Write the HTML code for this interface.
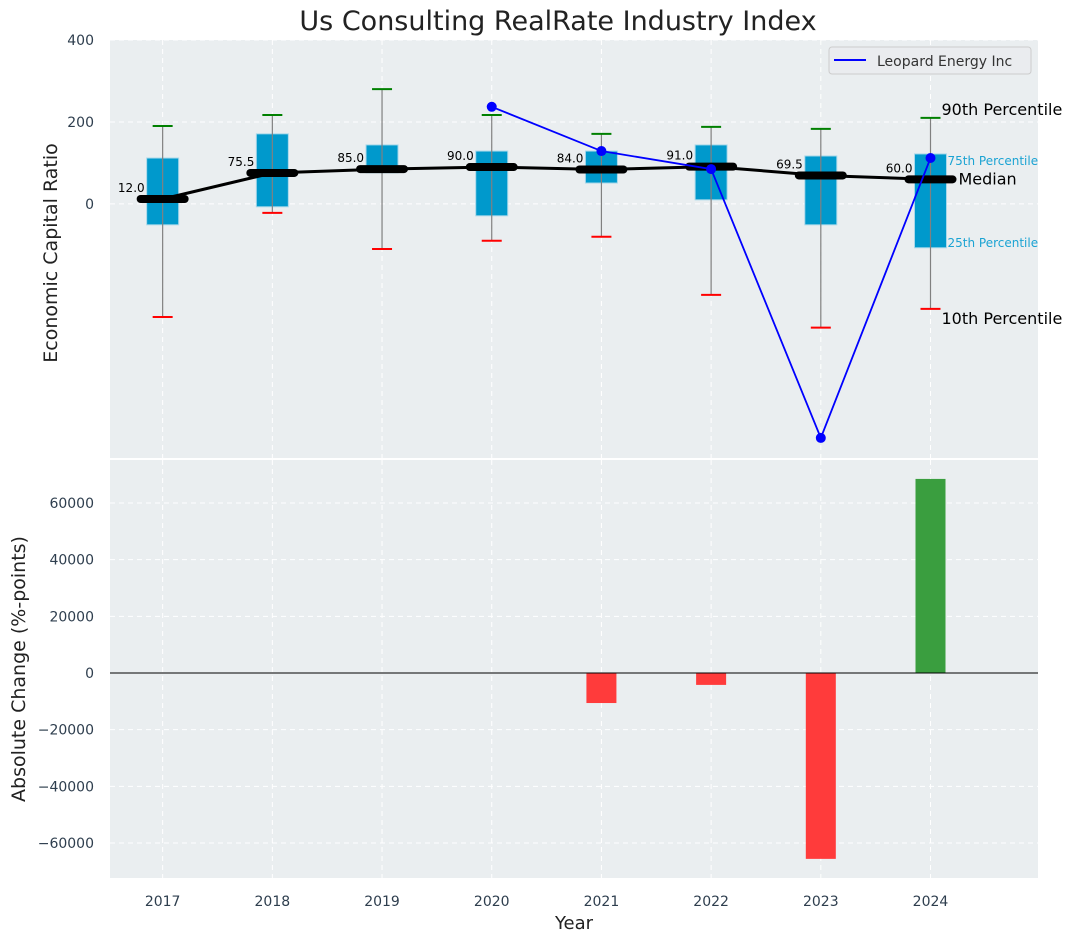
<!DOCTYPE html>
<html><head><meta charset="utf-8"><style>
body{margin:0;background:#fff;}
svg{display:block;font-family:"DejaVu Sans","Liberation Sans",sans-serif;}
</style></head><body>
<svg id="c" width="1076" height="942"></svg>
<script>
const years=[2017,2018,2019,2020,2021,2022,2023,2024];
const p10=[-276,-22,-110,-90,-80,-222,-302,-256];
const p25=[-51,-7,76,-29,51,10,-51,-107];
const med=[12,75.5,85,90,84,91,69.5,60];
const p75=[112,171,144,129,129,144,117,122];
const p90=[190,217,280,217,171,188,183,210];
const compYears=[2020,2021,2022,2023,2024];
const compVals=[237,129,85,-571,112];
const changeYears=[2017,2018,2019,2020,2021,2022,2023,2024];
const changeVals=[0,0,0,0,-10600,-4200,-65600,68500];
const topTicks=[0,200,400];
const botTicks=[-60000,-40000,-20000,0,20000,40000,60000];

const NS="http://www.w3.org/2000/svg";
const svg=document.getElementById('c');
function el(t,a,p){const e=document.createElementNS(NS,t);for(const k in a)e.setAttribute(k,a[k]);(p||svg).appendChild(e);return e;}
function tx(x,y,s,a,p){const e=el('text',Object.assign({x:x,y:y},a),p);e.textContent=s;return e;}
const X0=110,X1=1038,XMIN=2016.52,XMAX=2024.98;
const sx=v=>X0+(v-XMIN)/(XMAX-XMIN)*(X1-X0);
const T0=40,T1=458,TMIN=-620,TMAX=400;
const sy=v=>T1-(v-TMIN)/(TMAX-TMIN)*(T1-T0);
const B0=460,B1=878,BMIN=-72353,BMAX=75176;
const by=v=>B1-(v-BMIN)/(BMAX-BMIN)*(B1-B0);

let t=tx(558,30,'Us Consulting RealRate Industry Index',{'font-size':27,'text-anchor':'middle',fill:'#222'});


// top panel
let bg=el('rect',{x:X0,y:T0,width:X1-X0,height:T1-T0,fill:'#eaeef0'});

years.forEach(y=>el('line',{x1:sx(y),x2:sx(y),y1:T0,y2:T1,stroke:'#fff','stroke-dasharray':'5,4','stroke-width':1}));
topTicks.forEach(v=>{el('line',{x1:X0,x2:X1,y1:sy(v),y2:sy(v),stroke:'#fff','stroke-dasharray':'5,4'});
 const l=tx(94,sy(v)+5,String(v),{'font-size':14,'text-anchor':'end',fill:'#2e3e4e'});
 });
let yl=tx(57,253,'Economic Capital Ratio',{'font-size':19,'text-anchor':'middle',fill:'#222',transform:'rotate(-90 57 253)'});


years.forEach((y,i)=>{
 const g=el('g',{});
 const cx=sx(y),hw=16;
 el('rect',{x:cx-hw,y:sy(p75[i]),width:2*hw,height:sy(p25[i])-sy(p75[i]),fill:'#0099cc',stroke:'#a8d8ea','stroke-width':1},g);
 el('line',{x1:cx,x2:cx,y1:sy(p90[i]),y2:sy(p10[i]),stroke:'#808080','stroke-width':1.2},g);
 el('line',{x1:cx-10,x2:cx+10,y1:sy(p90[i]),y2:sy(p90[i]),stroke:'green','stroke-width':2},g);
 el('line',{x1:cx-10,x2:cx+10,y1:sy(p10[i]),y2:sy(p10[i]),stroke:'red','stroke-width':2},g);
});
let mp=years.map((y,i)=>sx(y)+','+sy(med[i])).join(' ');
let ml=el('polyline',{points:mp,fill:'none',stroke:'#000','stroke-width':3});

years.forEach((y,i)=>{
 const m=el('line',{x1:sx(y)-22,x2:sx(y)+22,y1:sy(med[i]),y2:sy(med[i]),stroke:'#000','stroke-width':8,'stroke-linecap':'round'});
 
 const l=tx(sx(y)-18,sy(med[i])-7,med[i].toFixed(1),{'font-size':12,'text-anchor':'end',fill:'#000'});
 
});
let cp=compYears.map((y,i)=>sx(y)+','+sy(compVals[i])).join(' ');
let cl=el('polyline',{points:cp,fill:'none',stroke:'blue','stroke-width':1.8});

compYears.forEach((y,i)=>{const c=el('circle',{cx:sx(y),cy:sy(compVals[i]),r:5,fill:'blue'});
 });
// annotations
const last=years.length-1,ax=sx(years[last]);
[[11,sy(p90[last])-3,'90th Percentile',16,'#000'],[17,sy(p75[last])+11,'75th Percentile',12,'#1ba3d3'],
 [28,sy(med[last])+5,'Median',16,'#000'],[17,sy(p25[last])-1,'25th Percentile',12,'#1ba3d3'],
 [11,sy(p10[last])+15,'10th Percentile',16,'#000']].forEach(a=>{
 const l=tx(ax+a[0],a[1],a[2],{'font-size':a[3],fill:a[4]});
 });
// legend
let lg=el('g',{});
el('rect',{x:829,y:47,width:202,height:27,rx:3,fill:'#eaecef',stroke:'#ccc'},lg);
el('line',{x1:834,x2:866,y1:60,y2:60,stroke:'blue','stroke-width':2},lg);
tx(877,66,'Leopard Energy Inc',{'font-size':14,fill:'#333'},lg);

// bottom panel
let bg2=el('rect',{x:X0,y:B0,width:X1-X0,height:B1-B0,fill:'#eaeef0'});

years.forEach(y=>{el('line',{x1:sx(y),x2:sx(y),y1:B0,y2:B1,stroke:'#fff','stroke-dasharray':'5,4'});
 const l=tx(sx(y),B1+28,String(y),{'font-size':14,'text-anchor':'middle',fill:'#2e3e4e'});
 });
botTicks.forEach(v=>{el('line',{x1:X0,x2:X1,y1:by(v),y2:by(v),stroke:'#fff','stroke-dasharray':'5,4'});
 const l=tx(94,by(v)+5,(v<0?'\u2212':'')+Math.abs(v),{'font-size':14,'text-anchor':'end',fill:'#2e3e4e'});
 });
changeYears.forEach((y,i)=>{const v=changeVals[i];if(!v)return;
 const r=el('rect',{x:sx(y)-15,y:Math.min(by(v),by(0)),width:30,height:Math.abs(by(v)-by(0)),fill:v>0?'#3a9e3f':'#ff3b3b'});
 });
let zl=el('line',{x1:X0,x2:X1,y1:by(0),y2:by(0),stroke:'#000','stroke-width':1});

let yl2=tx(25,669,'Absolute Change (%-points)',{'font-size':19,'text-anchor':'middle',fill:'#222',transform:'rotate(-90 25 669)'});

let xl=tx(574,929,'Year',{'font-size':18,'text-anchor':'middle',fill:'#222'});

</script>
</body></html>
